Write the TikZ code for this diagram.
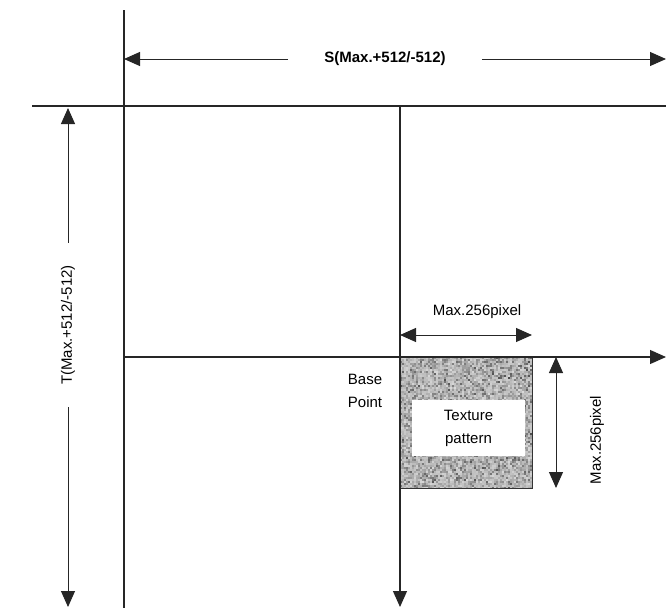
\documentclass[tikz,border=0pt]{standalone}
\usepackage{fontspec}
\setmainfont{Liberation Sans}
\usetikzlibrary{arrows.meta}

\begin{document}
\begin{tikzpicture}[
    x=1pt, y=-1pt,
    axis/.style={line width=1.2pt, black!85},
    axisarrow/.style={axis, -{Triangle[length=16pt, width=14pt]}},
    dimarrow/.style={line width=1pt, black!85, {Triangle[length=16pt, width=14pt]}-{Triangle[length=16pt, width=14pt]}},
    halfarrow/.style={line width=1pt, black!85, -{Triangle[length=16pt, width=14pt]}},
    lbl/.style={font=\fontsize{15}{23}\selectfont, inner sep=0pt, align=center}
]
\useasboundingbox (0,0) rectangle (666,608);

% Texture pattern (random grey grain)
\pgfmathsetseed{7}
\begin{scope}
  \clip (400,357) rectangle (532,488);
  \foreach \i in {0,...,65}
    \foreach \j in {0,...,65} {
      \pgfmathsetmacro\g{int(15+50*rnd*rnd+10*rnd)}
      \fill[black!\g] ({400+2*\i},{357+2*\j}) rectangle +(2,2);
    }
\end{scope}
\draw[line width=0.8pt, black!80] (400,357) rectangle (532,488);
\node[lbl, fill=white, minimum width=113, minimum height=56] (texbox) at (468.5,428) {Texture\\pattern};

% Axes
\coordinate (ltop) at (124,10);
\coordinate (lbot) at (124,608);
\coordinate (hleft) at (32,106);
\coordinate (hright) at (666,106);
\coordinate (vtop) at (400,106);
\coordinate (vbot) at (400,607);
\coordinate (hbaseleft) at (124,357);
\coordinate (hbaseright) at (666,357);

\draw[axis] (ltop) -- (lbot);
\draw[axis] (hleft) -- (hright);
\draw[axisarrow] (vtop) -- (vbot);
\draw[axisarrow] (hbaseleft) -- (hbaseright);

% S range
\node[lbl, font=\fontsize{15}{23}\selectfont\bfseries, inner xsep=36pt] (slabel) at (385,59) {S(Max.+512/-512)};
\coordinate (sleft) at (124,59);
\coordinate (sright) at (666,59);
\draw[halfarrow] (slabel) -- (sleft);
\draw[halfarrow] (slabel) -- (sright);

% T range
\node[lbl, rotate=90, inner xsep=22pt] (tlabel) at (68,325) {T(Max.+512/-512)};
\coordinate (ttop) at (68,108);
\coordinate (tbot) at (68,607);
\draw[halfarrow] (tlabel) -- (ttop);
\draw[halfarrow] (tlabel) -- (tbot);

% Pattern size
\coordinate (wleft) at (400,335);
\coordinate (wright) at (532,335);
\draw[dimarrow] (wleft) -- (wright);
\node[lbl] (wlabel) at (477,312) {Max.256pixel};

\coordinate (htop) at (556,357);
\coordinate (hbot) at (556,488);
\draw[dimarrow] (htop) -- (hbot);
\node[lbl, rotate=90] (hlabel) at (597,440) {Max.256pixel};

% Base point
\node[lbl] (baselabel) at (365,391) {Base\\Point};

\end{tikzpicture}
\end{document}
